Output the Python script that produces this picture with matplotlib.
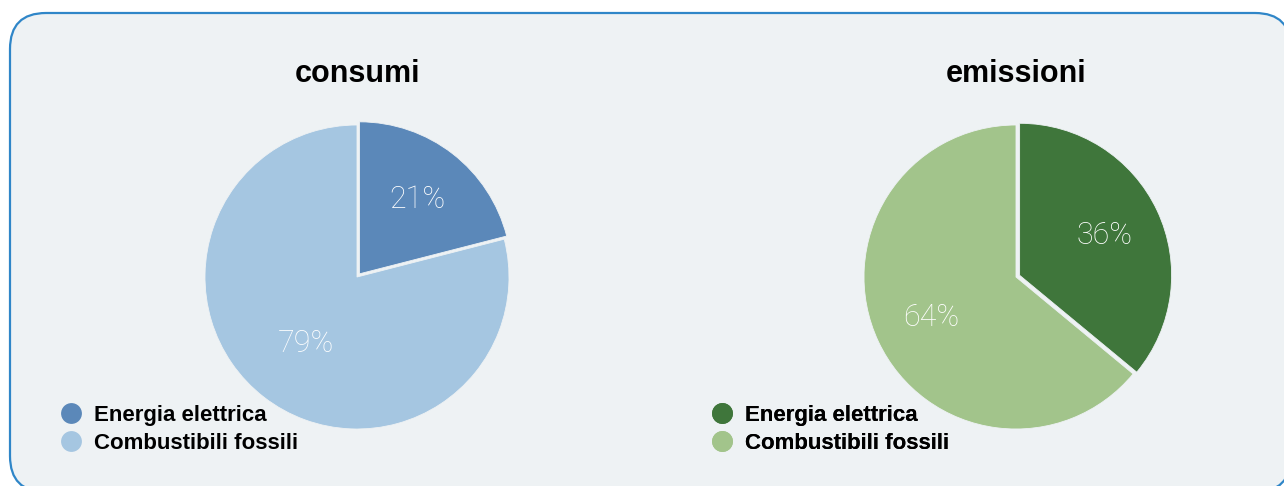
import matplotlib
matplotlib.use('Agg')
import matplotlib.pyplot as plt
from matplotlib.patches import FancyBboxPatch
from matplotlib.lines import Line2D
import numpy as np

# dati
titoli = ['consumi', 'emissioni']
etichette = ['Energia elettrica', 'Combustibili fossili']
valori_consumi = [21, 79]
valori_emissioni = [36, 64]
colori_consumi = ['#5b88b9', '#a5c6e1']
colori_emissioni = ['#3f763b', '#a2c48b']

W, H = 1284, 486
BG = '#eef2f4'
TITLE_FONT = ['Liberation Sans Narrow', 'Liberation Sans', 'DejaVu Sans']
PCT_FONT = ['Roboto', 'DejaVu Sans']

fig = plt.figure(figsize=(W / 100, H / 100), dpi=100, facecolor='white')
ax = fig.add_axes([0, 0, 1, 1])
ax.set_xlim(0, W)
ax.set_ylim(0, H)
ax.axis('off')

# cornice arrotondata
box = FancyBboxPatch((10, -6), 1281, H - 13 + 6,
                     boxstyle='round,pad=0,rounding_size=36',
                     facecolor=BG, edgecolor='#2f86c8', linewidth=1.6, zorder=0)
ax.add_patch(box)


def disegna_torta(cx, cy, valori, colori, titolo, pct_dist, legend_x):
    r = 152
    # explode in unita' dati (pixel)
    wedges, _ = ax.pie(valori, colors=colori, startangle=90, counterclock=False,
                       center=(cx, cy), radius=r, explode=[4, 0],
                       wedgeprops=dict(edgecolor=BG, linewidth=0.6))
    for w, v, d in zip(wedges, valori, pct_dist):
        ang = np.deg2rad((w.theta1 + w.theta2) / 2)
        wx, wy = w.center
        ax.text(wx + d * r * np.cos(ang), wy + d * r * np.sin(ang), f'{v}%',
                ha='center', va='center', color='white', fontsize=22,
                family=PCT_FONT, fontweight='light')
    ax.text(cx, 404, titolo, ha='center', va='baseline', fontsize=22,
            fontweight='bold', fontstretch='condensed', family=TITLE_FONT,
            color='black')
    handles = [Line2D([], [], marker='o', ls='', markersize=15, color=c,
                      markeredgewidth=0) for c in colori]
    leg = ax.legend(handles, etichette, loc='upper left',
                    bbox_to_anchor=(legend_x, 81), bbox_transform=ax.transData,
                    frameon=False, handlelength=1.0, handletextpad=0.55,
                    labelspacing=0.32, borderpad=0, borderaxespad=0,
                    prop=dict(family=TITLE_FONT, weight='bold', size=16,
                              stretch='condensed'))
    ax.add_artist(leg)


disegna_torta(357, 209, valori_consumi, colori_consumi, titoli[0],
              [0.62, 0.55], 60)
disegna_torta(1016, 209, valori_emissioni, colori_emissioni, titoli[1],
              [0.62, 0.62], 711)

ax.set_xlim(0, W)
ax.set_ylim(0, H)
ax.set_aspect('auto')

fig.savefig('out.png', dpi=100, facecolor='white')
